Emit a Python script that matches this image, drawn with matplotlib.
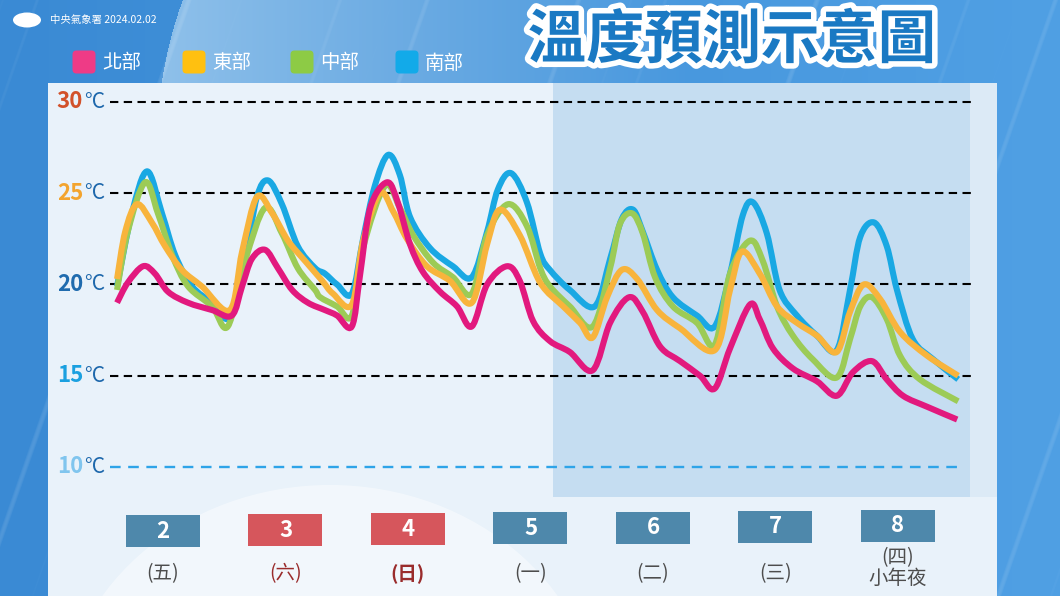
import numpy as np
import matplotlib.pyplot as plt
import matplotlib.patheffects as pe
from matplotlib.patches import Rectangle, FancyBboxPatch, Ellipse, PathPatch
from matplotlib.path import Path

plt.rcParams['font.family'] = ['Noto Sans CJK TC', 'DejaVu Sans']

W, H = 1060, 596

# ---- data: (hours after 2/2 00:00, temperature in C) ----
north = [(3.0, 19.0), (5.1, 20.1), (8.1, 21.0), (10.4, 20.6), (13.0, 19.6), (16.9, 19.0),
         (21.6, 18.6), (25.5, 18.3), (27.5, 19.9), (29.4, 21.4), (32.0, 21.9), (34.5, 20.9),
         (37.3, 19.7), (40.4, 19.0), (43.7, 18.6), (46.1, 18.3), (49.0, 17.7), (50.6, 20.5),
         (52.6, 24.2), (55.9, 25.6), (58.0, 24.5), (60.4, 22.2), (62.9, 20.7), (66.3, 19.6),
         (69.6, 18.8), (72.5, 17.7), (75.5, 20.0), (79.4, 21.0), (81.9, 20.2), (84.5, 18.0),
         (87.8, 16.9), (91.7, 16.3), (96.2, 15.3), (99.6, 17.9), (103.3, 19.3), (106.0, 18.5),
         (109.4, 16.6), (113.3, 15.8), (117.2, 15.0), (120.1, 14.3), (123.1, 16.5), (127.0, 18.9),
         (128.9, 18.1), (131.5, 16.5), (135.4, 15.4), (140.1, 14.7), (144.0, 13.9), (147.2, 15.2),
         (150.9, 15.8), (153.8, 14.8), (157.0, 13.9), (161.7, 13.3), (167.6, 12.6)]

east = [(3.0, 20.3), (4.6, 22.9), (6.9, 24.4), (9.8, 23.4), (12.4, 22.1), (15.7, 20.8),
        (19.6, 19.9), (25.1, 18.6), (27.5, 21.8), (30.4, 24.8), (33.4, 23.9), (36.5, 22.4),
        (39.8, 21.3), (43.2, 20.2), (45.3, 19.5), (49.0, 18.9), (51.2, 22.4), (54.5, 25.0),
        (57.1, 24.0), (59.8, 22.5), (63.7, 21.0), (68.2, 20.2), (72.5, 19.0), (75.5, 22.2),
        (78.0, 24.1), (81.9, 22.7), (85.9, 20.1), (90.4, 18.8), (93.7, 17.9), (96.2, 17.1),
        (99.0, 19.3), (101.9, 20.8), (104.9, 20.3), (108.8, 18.6), (113.3, 17.6), (120.1, 16.4),
        (123.1, 19.7), (125.4, 21.8), (128.9, 20.6), (132.3, 18.8), (136.2, 17.9), (140.1, 17.2),
        (144.0, 16.3), (146.6, 18.5), (149.3, 20.0), (152.5, 19.2), (156.4, 17.4), (161.7, 16.1),
        (167.8, 15.0)]

center = [(3.0, 19.7), (5.1, 22.9), (8.5, 25.6), (11.0, 23.9), (13.8, 21.6), (16.9, 19.9),
          (21.6, 18.8), (24.7, 17.7), (28.1, 21.3), (32.0, 24.2), (35.3, 22.8), (38.4, 20.9),
          (41.8, 19.7), (42.8, 19.3), (46.1, 18.8), (49.0, 18.3), (51.2, 22.0), (55.5, 25.4),
          (58.4, 24.2), (61.0, 22.7), (64.9, 21.2), (68.8, 20.4), (72.5, 19.5), (75.5, 22.7),
          (79.6, 24.4), (83.3, 23.2), (85.9, 20.9), (87.8, 19.9), (91.7, 18.8), (96.2, 17.7),
          (99.6, 20.9), (101.5, 23.3), (103.9, 23.9), (106.0, 22.8), (108.4, 20.4), (111.9, 18.8),
          (116.6, 17.9), (120.1, 16.7), (123.1, 20.6), (127.0, 22.4), (129.5, 21.3), (132.3, 18.8),
          (135.4, 17.2), (139.3, 15.9), (144.0, 14.9), (146.6, 17.0), (148.6, 18.8), (150.9, 19.3),
          (153.8, 18.1), (156.4, 16.1), (160.3, 14.8), (167.8, 13.6)]

south = [(3.0, 19.9), (5.9, 23.9), (8.9, 26.2), (11.8, 23.9), (14.4, 21.6), (17.7, 19.9),
         (21.6, 19.0), (25.1, 18.2), (28.1, 21.4), (30.4, 24.8), (32.6, 25.7), (35.3, 24.4),
         (38.4, 22.1), (41.8, 20.9), (43.7, 20.6), (46.1, 20.0), (49.0, 19.5), (51.2, 22.5),
         (53.5, 25.4), (56.1, 27.1), (58.4, 26.0), (60.4, 23.7), (64.3, 22.0), (68.8, 21.0),
         (72.5, 20.4), (75.5, 22.9), (77.6, 25.2), (80.2, 26.1), (83.3, 24.5), (85.9, 21.7),
         (87.8, 20.8), (91.7, 19.7), (96.6, 18.8), (99.6, 21.4), (101.9, 23.6), (104.1, 24.1),
         (106.0, 22.9), (108.8, 20.8), (111.9, 19.3), (116.6, 18.3), (120.1, 17.7), (123.1, 20.6),
         (125.6, 23.8), (127.6, 24.5), (130.3, 22.8), (132.8, 19.7), (136.2, 18.3), (140.1, 17.2),
         (144.0, 16.4), (146.6, 19.7), (148.6, 22.6), (151.3, 23.4), (153.8, 22.1), (155.8, 19.7),
         (158.9, 17.0), (162.9, 15.9), (167.8, 14.8)]

regions = ['北部', '東部', '中部', '南部']
line_colors = ['#E2197E', '#F8B43C', '#9CCB56', '#19A8E3']
swatch_colors = ['#EE3B86', '#FFC010', '#8DCB45', '#12AAE9']

grid_values = [30, 25, 20, 15, 10]
grid_label_colors = ['#D2512A', '#F3A42E', '#1F6BAE', '#1AA0E0', '#80C5EE']

days = ['2', '3', '4', '5', '6', '7', '8']
weekdays = ['(五)', '(六)', '(日)', '(一)', '(二)', '(三)', '(四)\n小年夜']
weekend = [False, True, True, False, False, False, False]

forecast_start, forecast_end = 88.4, 170.1   # shaded part (hours)


def smooth_path(pts):
    # catmull-rom through the points, written as cubic bezier segments
    p = np.asarray(pts, float)
    ext = np.vstack([p[0], p, p[-1]])
    verts = [p[0]]
    codes = [Path.MOVETO]
    for i in range(len(p) - 1):
        c1 = ext[i + 1] + (ext[i + 2] - ext[i]) / 6
        c2 = ext[i + 2] - (ext[i + 3] - ext[i + 1]) / 6
        verts += [c1, c2, ext[i + 2]]
        codes += [Path.CURVE4] * 3
    return Path(verts, codes)


# ---- figure / background ----
fig = plt.figure(figsize=(W / 100, H / 100), dpi=100)
bg = fig.add_axes([0, 0, 1, 1])
bg.set_xlim(0, W)
bg.set_ylim(H, 0)
bg.axis('off')

yy, xx = np.mgrid[0:H, 0:W].astype(float)
dark = np.array([58, 138, 212]) / 255
mid = np.array([80, 160, 228]) / 255
light = np.array([150, 197, 236]) / 255
img = dark + (mid - dark) * (xx / W)[..., None]
inside = ((xx - 600) ** 2 + (yy - 150) ** 2) < 444 ** 2
fade = np.clip(1 - (xx - 170) / 520, 0, 1) * inside
img = img + (light - img) * (fade * 0.9)[..., None]
u = xx + 0.35 * yy
s = np.sin(0.21 * u) + np.sin(0.37 * u + 1.0) + np.sin(0.13 * u + 2.0)
img = img + (1 - img) * (np.clip(s - 2.0, 0, 1) * 0.12)[..., None]
bg.imshow(np.clip(img, 0, 1), extent=(0, W, H, 0), aspect='auto', zorder=0)

panel = Rectangle((48, 83), 949, 513, fc='#E9F2FA', ec='none', zorder=1)
bg.add_patch(panel)
bg.add_patch(Rectangle((970, 83), 27, 414, fc='#DCEAF6', ec='none', zorder=1))
arc = Ellipse((330, 725), 540, 480, fc='white', ec='none', alpha=0.45, zorder=1)
bg.add_patch(arc)
arc.set_clip_path(panel)

# logo + date
bg.add_patch(Ellipse((27, 20), 28, 15, fc='white', ec='none', zorder=3))
bg.text(50, 20, '中央氣象署 2024.02.02', color='white', fontsize=7.5, va='center', zorder=3)

# title
bg.text(732, 41, '溫度預測示意圖', fontsize=42, fontweight='bold', color='#1A79C3',
        ha='center', va='center', zorder=3,
        path_effects=[pe.withStroke(linewidth=8, foreground='white')])

# legend
swatch_x = [72, 182, 290, 395]
for name, c, x0 in zip(regions, swatch_colors, swatch_x):
    bg.add_patch(FancyBboxPatch((x0 + 2, 52), 20, 20, boxstyle='round,pad=1.5,rounding_size=4',
                                fc=c, ec='none', zorder=3))
    bg.text(x0 + 30, 63, name, color='white', fontsize=14, va='center', zorder=3)

# ---- chart axes ----
ax = fig.add_axes([48 / W, 0, 949 / W, 513 / H])
ax.set_xlim(-10.53, 175.4)
ax.set_ylim(2.93, 31.04)
ax.axis('off')

ax.add_patch(Rectangle((forecast_start, 8.36), forecast_end - forecast_start, 31.04 - 8.36,
                       fc='#C5DDF1', ec='none', zorder=0))

for v in grid_values:
    if v == 10:
        ax.hlines(v, 1.6, 168.5, colors='#2EA4E8', linestyles=(0, (4.5, 3.2)), lw=1.7, zorder=2)
    else:
        ax.hlines(v, 1.6, 170.5, colors='black', linestyles=(0, (4, 2.6)), lw=1.5, zorder=2)

for data, c in zip([south, center, east, north], line_colors[::-1]):
    ax.add_patch(PathPatch(smooth_path(data), fill=False, ec=c, lw=4.4,
                           joinstyle='round', capstyle='butt', zorder=3))

ytr = ax.get_yaxis_transform()
for v, c in zip(grid_values, grid_label_colors):
    ax.text(0.037, v, str(v), transform=ytr, color=c, fontsize=16, fontweight='bold',
            ha='right', va='center', zorder=4)
    ax.text(0.038, v, '°C', transform=ytr, color='#1E68AC', fontsize=15, fontweight='medium',
            ha='left', va='center', zorder=4)

xtr = ax.get_xaxis_transform()
box_w = 14.5
box_h = 32 / 513
for i, (d, wd, we) in enumerate(zip(days, weekdays, weekend)):
    hc = 12 + 24 * i
    yc = (596 - (531 - 0.85 * i)) / 513
    ax.add_patch(Rectangle((hc - box_w / 2, yc - box_h / 2), box_w, box_h, transform=xtr,
                           fc='#D6565C' if we else '#4E88AB', ec='none', zorder=3))
    ax.text(hc, yc, d, transform=xtr, color='white', fontsize=16, fontweight='bold',
            ha='center', va='center', zorder=4)
    if '\n' in wd:
        ly = (596 - 568) / 513
    else:
        ly = (596 - 574) / 513
    col = '#9A2C2C' if we else '#4D4D4D'
    ax.text(hc, ly, wd, transform=xtr, color=col, fontsize=14,
            fontweight='bold' if wd == '(日)' else 'normal',
            ha='center', va='center', linespacing=1.0, zorder=4)

fig.savefig('out.png', dpi=100)
